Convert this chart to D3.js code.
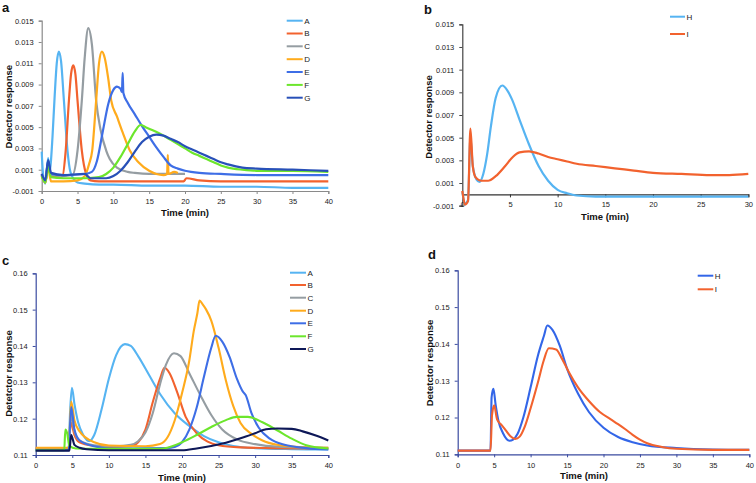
<!DOCTYPE html>
<html><head><meta charset="utf-8">
<script src="https://cdn.jsdelivr.net/npm/d3@7"></script>
<style>
html,body{margin:0;padding:0;background:#fff;}
svg text{font-family:"Liberation Sans",Arial,sans-serif;}
</style></head>
<body><svg id="chart" width="756" height="483"></svg>
<script>
// ---------------- DATA ----------------
const seriesNamesAC = ["A","B","C","D","E","F","G"];
const seriesNamesBD = ["H","I"];
const yTicksAB = [-0.001,0.001,0.003,0.005,0.007,0.009,0.011,0.013,0.015];
const yTicksCD = [0.11,0.12,0.13,0.14,0.15,0.16];
const xTicks40 = [0,5,10,15,20,25,30,35,40];
const xTicks30 = [0,5,10,15,20,25,30];

// panel a (t [min], detector response)
const a_A = [[0,0.0027],[0.2,0.0005],[0.5,-0.0003],[0.9,0.0021],[1.1,0.0008],[1.25,0.0015],[1.5,0.004],[1.8,0.0078],[2.1,0.011],[2.4,0.0121],[2.7,0.0112],[3.1,0.0075],[3.6,0.0028],[4.0,0.0008],[4.5,0.0001],[5,-0.0002],[6,-0.0003],[8,-0.0004],[10,-0.0004],[15,-0.0005],[20,-0.0005],[25,-0.0006],[30,-0.0006],[35,-0.0007],[40,-0.0007]];
const a_B = [[0,0.0005],[0.5,-0.0002],[0.9,0.0016],[1.3,0.0004],[2,0.0003],[2.9,0.0004],[3.35,0.0028],[3.8,0.0075],[4.1,0.0100],[4.4,0.0108],[4.7,0.0100],[5.0,0.0075],[5.6,0.0028],[6.2,0.0006],[6.8,0.0000],[8,-0.0001],[10,-0.0001],[15,-0.0001],[19.8,-0.0001],[20.2,0.0002],[22,0.0000],[25,-0.0001],[30,-0.0001],[35,-0.0001],[40,-0.0001]];
const a_C = [[0,0.0005],[0.5,-0.0002],[0.9,0.0015],[1.3,0.0005],[3,0.0004],[4.3,0.0005],[5.0,0.0028],[5.6,0.0075],[6.0,0.0115],[6.5,0.0143],[7.0,0.0128],[7.6,0.0075],[8.2,0.0048],[9.0,0.0028],[9.5,0.002],[10.5,0.0012],[12,0.0008],[13,0.0007],[15,0.0006],[17,0.0006],[19,0.0006],[20,0.0006]];
const a_D = [[0,0.0004],[0.5,-0.0002],[0.9,0.0012],[1.3,-0.0001],[3,-0.0001],[5,0.0000],[6,0.0004],[6.6,0.0015],[7.05,0.0028],[7.6,0.0075],[8.0,0.0110],[8.4,0.0121],[8.8,0.0115],[9.3,0.0095],[9.7,0.0075],[10.5,0.0060],[11.3,0.0045],[12.3,0.0028],[13.5,0.0017],[15,0.0009],[16,0.0006],[17,0.0005],[17.5,0.0006],[17.6,0.0024],[17.7,0.0006],[18.5,0.0008],[19,0.0007]];
const a_E = [[0,0.0006],[0.5,0.0000],[0.9,0.0018],[1.3,0.0006],[3,0.0005],[6,0.0006],[7,0.0008],[7.7,0.0018],[8.5,0.0045],[9.3,0.0072],[10,0.0085],[10.5,0.0088],[11,0.0086],[11.2,0.0083],[11.3,0.0101],[11.4,0.0082],[12,0.0073],[13,0.0062],[14,0.0051],[15,0.0041],[16,0.0031],[17,0.0022],[18,0.0014],[19,0.0011],[20,0.0009],[22,0.0007],[25,0.0006],[30,0.0005],[35,0.0005],[40,0.0005]];
const a_F = [[0,0.0004],[0.5,-0.0002],[0.9,0.0013],[1.3,0.0003],[3,0.0002],[6,0.0002],[8,0.0003],[9,0.0006],[10,0.0012],[11,0.0022],[12,0.0034],[13,0.0046],[13.8,0.0052],[14.5,0.0050],[15.5,0.0047],[17,0.0042],[18,0.0038],[19,0.0034],[20,0.003],[21,0.0026],[22,0.0023],[23,0.002],[24,0.0017],[25,0.0014],[26,0.0012],[28,0.001],[30,0.0009],[35,0.0009],[40,0.0008]];
const a_G = [[0,0.0006],[0.5,0.0000],[0.9,0.0019],[1.3,0.0007],[3,0.0005],[6,0.0006],[6.8,0.0002],[9,0.0002],[10,0.0004],[11,0.0009],[12,0.0017],[13,0.0027],[14,0.0036],[15,0.0041],[16,0.0043],[17,0.0042],[18,0.0039],[19,0.0036],[20,0.0032],[21,0.0029],[22,0.0026],[23,0.0023],[24,0.002],[25,0.0017],[26,0.0015],[28,0.0012],[30,0.0011],[35,0.001],[40,0.0009]];

// panel b
const b_H = [[0,0.0002],[0.3,-0.0008],[0.6,-0.0005],[0.85,0.0050],[1.1,0.0025],[1.5,0.0013],[1.8,0.0011],[2.2,0.0018],[2.6,0.0035],[3,0.006],[3.5,0.0085],[4.2,0.0096],[4.7,0.0092],[5.2,0.0084],[6,0.0066],[7,0.0044],[8,0.0025],[9,0.0012],[10,0.0004],[11,0.0001],[12,-0.0001],[14,-0.0002],[20,-0.0002],[25,-0.0002],[30,-0.0002]];
const b_I = [[0,0.0003],[0.3,-0.0009],[0.6,-0.0006],[0.85,0.0058],[1.1,0.0025],[1.4,0.0015],[2,0.0012],[2.7,0.0012],[3.5,0.0016],[4.5,0.0025],[5.3,0.0033],[6,0.0037],[7,0.0038],[8,0.0036],[9,0.0033],[10,0.0031],[11,0.0029],[12,0.0027],[14,0.0025],[16,0.0023],[18,0.0021],[20,0.0019],[23,0.0018],[26,0.0017],[28,0.0017],[30,0.0018]];

// panel c
const c_A = [[0,0.1115],[4.5,0.1115],[4.7,0.122],[4.95,0.1285],[5.3,0.124],[5.8,0.119],[6.5,0.1155],[7.3,0.1138],[8,0.1155],[9,0.1225],[10,0.1310],[11,0.1375],[12.2,0.1405],[13,0.1400],[14,0.1372],[15.5,0.1320],[17,0.1268],[19,0.1215],[21,0.1180],[23,0.1152],[25,0.1135],[27,0.1125],[30,0.1119],[35,0.1116],[40,0.1115]];
const c_B = [[0,0.1118],[4.5,0.1118],[4.8,0.1190],[5.3,0.1155],[6,0.1135],[8,0.1125],[10,0.1122],[13,0.1124],[14,0.1135],[15,0.1170],[16,0.1245],[17,0.1310],[17.6,0.1340],[18.3,0.1325],[19.3,0.1275],[20.5,0.1205],[22,0.1160],[23.5,0.1137],[25,0.1127],[28,0.1121],[32,0.1119],[40,0.1118]];
const c_C = [[0,0.1118],[4.5,0.1118],[4.85,0.1210],[5.3,0.1165],[6,0.1140],[8,0.1127],[11,0.1124],[13,0.1128],[14,0.1138],[15,0.1162],[16,0.1215],[17,0.1295],[17.8,0.1348],[18.9,0.1380],[19.8,0.1372],[21,0.1325],[22.5,0.1265],[24,0.1210],[25.5,0.1170],[27.5,0.1143],[30,0.1130],[33,0.1123],[40,0.1120]];
const c_D = [[0,0.112],[4.5,0.112],[4.85,0.1247],[5.3,0.1195],[6,0.1165],[8,0.1135],[10,0.1126],[15,0.1124],[17,0.1130],[18,0.1148],[19,0.1195],[20,0.1270],[21,0.1360],[21.6,0.1440],[22.1,0.1490],[22.4,0.1525],[22.8,0.1515],[23.3,0.1500],[24,0.1470],[25,0.1395],[26,0.1305],[27,0.1235],[28,0.1188],[29.5,0.1158],[31,0.1140],[33,0.1128],[36,0.1122],[40,0.1120]];
const c_E = [[0,0.1113],[4.5,0.1113],[4.85,0.1232],[5.3,0.1170],[6,0.1140],[8,0.1124],[10,0.1118],[18,0.1119],[19,0.1122],[20,0.1135],[21,0.1170],[22,0.1230],[23,0.1315],[24,0.1395],[24.6,0.1428],[25.5,0.1412],[26.5,0.1370],[27.5,0.1310],[28.3,0.1275],[28.7,0.1265],[29.5,0.1215],[30.5,0.1175],[32,0.1145],[34,0.1128],[37,0.1119],[40,0.1115]];
const c_F = [[0,0.1113],[3.9,0.1113],[4.05,0.1170],[4.3,0.1160],[4.6,0.1125],[5.5,0.1118],[8,0.1117],[17,0.1117],[18,0.1120],[20,0.1135],[22,0.1155],[24,0.1177],[26,0.1196],[27.5,0.1205],[29,0.1205],[31,0.1190],[33,0.1168],[35,0.1145],[37,0.1127],[40,0.1118]];
const c_G = [[0,0.1112],[4.6,0.1112],[4.85,0.1155],[5.3,0.1128],[6,0.1120],[7,0.1116],[10,0.1113],[20,0.1113],[22,0.1118],[24,0.1125],[26,0.1134],[28,0.1146],[30,0.1160],[31.5,0.1171],[33,0.1173],[35,0.1172],[36.5,0.1165],[38.5,0.1152],[40,0.1140]];

// panel d
const d_H = [[0,0.1110],[4.5,0.1110],[4.65,0.1255],[4.9,0.1278],[5.2,0.1235],[5.6,0.1190],[6.2,0.1158],[7.1,0.1137],[7.6,0.1140],[8.2,0.1155],[9,0.1200],[10,0.1282],[11,0.1368],[11.8,0.1420],[12.3,0.1450],[13,0.1438],[14,0.1395],[15,0.1333],[16.5,0.1265],[18,0.1215],[20,0.1172],[22,0.1147],[24,0.1133],[26,0.1124],[30,0.1117],[35,0.1113],[40,0.1112]];
const d_I = [[0,0.1110],[4.5,0.1110],[4.7,0.1205],[5.0,0.1233],[5.4,0.1195],[6.0,0.1180],[6.6,0.1165],[7.2,0.1150],[7.9,0.1142],[8.5,0.1148],[9.2,0.1175],[10,0.1225],[11,0.1295],[11.8,0.1355],[12.5,0.1388],[13.5,0.1385],[14.3,0.1360],[15.2,0.1325],[16.5,0.1282],[18,0.1245],[19.5,0.1215],[21,0.1195],[22,0.1182],[23,0.1168],[24,0.1153],[25,0.1140],[26,0.1130],[28,0.1120],[30,0.1115],[35,0.1112],[40,0.1112]];

// ---------------- STYLE ----------------
const colA = "#56B4F2", colB = "#F2622E", colC = "#959DA2", colD = "#FFAB1C",
      colE = "#3E6EE6", colF = "#6CE62C", colGa = "#2850B8", colGc = "#0E1858",
      colHd = "#3366E8";

const svg = d3.select("#chart");
const FONT_TICK = 7.5, FONT_TITLE = 9.5;

function panel(cfg){
  const g = svg.append("g");
  const x = d3.scaleLinear().domain(cfg.xDomain).range(cfg.xRange);
  const y = d3.scaleLinear().domain(cfg.yDomain).range(cfg.yRange);
  const ya = g.append("g").attr("transform",`translate(${cfg.xRange[0]},0)`)
    .call(d3.axisLeft(y).tickValues(cfg.yTicks).tickSize(3).tickPadding(cfg.yPad||5).tickFormat(cfg.yFmt));
  ya.select(".domain").attr("stroke",cfg.axisColor).attr("stroke-width",1.2);
  ya.selectAll(".tick line").attr("stroke",cfg.axisColor);
  ya.selectAll("text").attr("font-size",FONT_TICK).attr("fill","#222");
  if(cfg.xAxisAtZero){
    const xl = g.append("g").attr("transform",`translate(0,${y(0)})`)
      .call(d3.axisBottom(x).tickValues(cfg.xTicks).tickSize(3).tickFormat(""));
    xl.select(".domain").attr("stroke",cfg.xAxisColor).attr("stroke-width",1.2);
    xl.selectAll(".tick line").attr("stroke",cfg.xAxisColor);
    const xb = g.append("g").attr("transform",`translate(0,${cfg.yRange[0]-4})`)
      .call(d3.axisBottom(x).tickValues(cfg.xTicks).tickSize(0).tickPadding(0));
    xb.select(".domain").remove();
    xb.selectAll("text").attr("font-size",FONT_TICK).attr("fill","#222");
  } else {
    const xa = g.append("g").attr("transform",`translate(0,${cfg.yRange[0]})`)
      .call(d3.axisBottom(x).tickValues(cfg.xTicks).tickSize(3).tickPadding(cfg.xPad));
    xa.select(".domain").attr("stroke",cfg.axisColor).attr("stroke-width",1.2);
    xa.selectAll(".tick line").attr("stroke",cfg.axisColor);
    xa.selectAll("text").attr("font-size",FONT_TICK).attr("fill","#222");
  }
  const line = d3.line().x(d=>x(d[0])).y(d=>y(d[1])).curve(d3.curveMonotoneX);
  cfg.series.forEach(s=>{
    g.append("path").datum(s.data).attr("d",line).attr("fill","none")
     .attr("stroke",s.color).attr("stroke-width",cfg.lw).attr("stroke-linejoin","round");
  });
  cfg.series.forEach((s,i)=>{
    const ly = cfg.legY[i];
    g.append("line").attr("x1",cfg.legX).attr("x2",cfg.legX+cfg.legLen).attr("y1",ly).attr("y2",ly)
      .attr("stroke",s.color).attr("stroke-width",2);
    g.append("text").attr("x",cfg.legX+cfg.legLen+1.5).attr("y",ly+2.8).attr("font-size",8)
      .attr("fill","#222").text(s.name);
  });
  g.append("text").attr("x",cfg.xTitle[0]).attr("y",cfg.xTitle[1]).attr("text-anchor","middle")
    .attr("font-size",FONT_TITLE).attr("font-weight","bold").attr("fill","#111").text("Time (min)");
  g.append("text").attr("transform",`translate(${cfg.yTitle[0]},${cfg.yTitle[1]}) rotate(-90)`)
    .attr("text-anchor","middle").attr("font-size",FONT_TITLE).attr("font-weight","bold").attr("fill","#111").text(cfg.yTitleText);
  g.append("text").attr("x",cfg.letter[0]).attr("y",cfg.letter[1]).attr("font-size",13)
    .attr("font-weight","bold").attr("fill","#111").text(cfg.letterText);
}

const fmt3 = v => v.toFixed(3), fmt2 = v => v.toFixed(2);

panel({
  xDomain:[0,40], xRange:[41.7,328.3], yDomain:[-0.001,0.015], yRange:[191,20.7],
  yTicks:yTicksAB, xTicks:xTicks40, yFmt:fmt3, xPad:5, axisColor:"#8a8a8a", lw:2.2,
  series:[{name:"A",data:a_A,color:colA},{name:"B",data:a_B,color:colB},{name:"C",data:a_C,color:colC},
          {name:"D",data:a_D,color:colD},{name:"E",data:a_E,color:colE},{name:"F",data:a_F,color:colF},
          {name:"G",data:a_G,color:colGa}],
  legX:286.7, legLen:16, legY:[20.7,33.5,46.3,59.2,72,84.9,97.7],
  xTitle:[185,215.5], yTitle:[11.5,106.7], yTitleText:"Detector response", letter:[2,11.5], letterText:"a"
});

panel({
  xDomain:[0,30], xRange:[462.3,748.3], yDomain:[-0.001,0.015], yRange:[205.7,24.3],
  yTicks:yTicksAB, xTicks:xTicks30, yFmt:fmt3, xPad:0, axisColor:"#444", xAxisAtZero:true, xAxisColor:"#333", lw:2.2,
  series:[{name:"H",data:b_H,color:colA},{name:"I",data:b_I,color:colB}],
  legX:670, legLen:15, legY:[16.7,34],
  xTitle:[605,219.5], yTitle:[431.5,117], yTitleText:"Detector response", letter:[424,13.5], letterText:"b"
});

panel({
  xDomain:[0,40], xRange:[35.7,328.3], yDomain:[0.11,0.16], yRange:[455,273.3],
  yTicks:yTicksCD, xTicks:xTicks40, yFmt:fmt2, xPad:5, axisColor:"#3B4BA0", lw:2.1,
  series:[{name:"A",data:c_A,color:colA},{name:"B",data:c_B,color:colB},{name:"C",data:c_C,color:colC},
          {name:"D",data:c_D,color:colD},{name:"E",data:c_E,color:colE},{name:"F",data:c_F,color:colF},
          {name:"G",data:c_G,color:colGc}],
  legX:290, legLen:16, legY:[272.7,285,297.7,310.7,323.3,336.3,349],
  xTitle:[182,480.5], yTitle:[11.5,373.5], yTitleText:"Detetctor response", letter:[2,265], letterText:"c"
});

panel({
  xDomain:[0,40], xRange:[457.7,749.3], yDomain:[0.11,0.16], yRange:[454.3,270.3],
  yTicks:yTicksCD, xTicks:xTicks40, yFmt:fmt2, xPad:5, axisColor:"#3B4BA0", lw:2.1,
  series:[{name:"H",data:d_H,color:colHd},{name:"I",data:d_I,color:colB}],
  legX:697.7, legLen:15.6, legY:[275.7,289.3],
  xTitle:[584,479], yTitle:[433,363], yTitleText:"Detetctor response", letter:[428,259], letterText:"d"
});
</script></body></html>
